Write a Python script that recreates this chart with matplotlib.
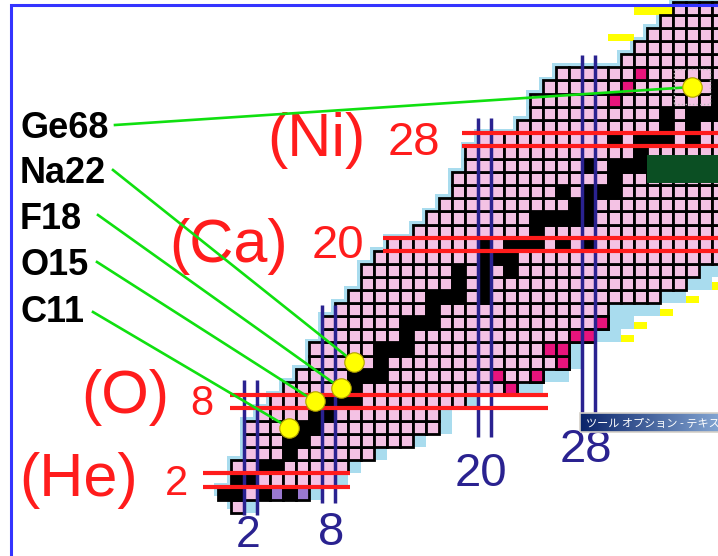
import matplotlib
matplotlib.use('Agg')
import matplotlib.pyplot as plt
from matplotlib.patches import Rectangle
from matplotlib.colors import LinearSegmentedColormap
import numpy as np

# rows of the nuclide chart: proton number Z, lightest / heaviest known neutron number
z_rows = list(range(0, 39))
n_first = [1, 0, 1, 1, 2, 2, 2, 3, 4, 5, 6, 7, 7, 8, 8, 9, 10, 11, 11, 12,
           13, 15, 16, 17, 18, 18, 19, 19, 20, 23, 24, 24, 25, 26, 31, 32, 33, 34, 35]
n_last = [1, 2, 8, 9, 11, 14, 16, 16, 18, 22, 24, 26, 26, 28, 29, 29, 33, 35, 36, 38,
          38, 38, 38, 38, 38, 38, 38, 38, 38, 38, 38, 38, 38, 38, 38, 38, 38, 38, 38]
# predicted (light blue) cells beyond the heaviest known one
lb_last = [2, 7, 9, 10, 12, 15, 17, 17, 19, 24, 26, 27, 27, 30, 31, 33, 35, 37, 38, 38,
           38, 38, 38, 38, 38, 38, 38, 38, 38, 38, 38, 38, 38, 38, 38, 38, 38, 38, 38]
# stable nuclides (neutron numbers) for each Z
stable_n = [[], [0, 1], [1, 2], [3, 4], [5], [5, 6], [6, 7], [7, 8], [8, 9, 10], [10],
            [10, 11, 12], [12], [12, 13, 14], [14], [14, 15, 16], [16], [16, 17, 18, 20],
            [18, 20], [18, 20, 22], [20, 21, 22], [20, 22, 23, 24, 26, 28], [24],
            [24, 25, 26, 27, 28], [27, 28], [26, 28, 29, 30], [30], [28, 30, 31, 32], [32],
            [30, 32, 33, 34, 36], [34, 36], [34, 36, 37, 38, 40], [38, 40],
            [38, 40, 41, 42, 44], [42], [40, 42, 43, 44, 46, 48], [44, 46],
            [42, 44, 46, 47, 48, 50], [48, 50], [46, 48, 49, 50]]
# newly found nuclides (magenta)
new_n = [22, 21, 24, 26, 25, 26, 27, 28, 29, 30, 31, 32]
new_z = [9, 10, 10, 11, 12, 12, 13, 13, 14, 31, 32, 33]
# unbound hydrogen states
res_n = [4, 6]
res_z = [1, 1]
dark_n = [3, 5]
dark_z = [1, 1]
# yellow marks at the drip lines
yel_n = [32, 33, 34, 30, 31, 34, 32, 31, 36, 38]
yel_z = [38, 38, 38, 36, 36, 15, 14, 13, 16, 17]

# magic numbers
magic = [2, 8, 20, 28]
elem_labels = ['(He)', '(O)', '(Ca)', '(Ni)']

# PET nuclides: name, N, Z
pet_names = ['Ge68', 'Na22', 'F18', 'O15', 'C11']
pet_n = [36, 10, 9, 7, 5]
pet_z = [32, 11, 9, 8, 6]

PINK = '#f4c2e4'
LBLUE = '#a9dcee'
MAGENTA = '#e8147c'
LAVENDER = '#9a78d0'
RED = '#ff1c1c'
NAVY = '#2a2290'
GREEN = '#10e010'


def nx(px):
    return (px - 224) / 13.0


def zy(py):
    return (506.2 - py) / 13.1


fig = plt.figure(figsize=(7.18, 5.56), dpi=100)
ax = fig.add_axes([0, 0, 1, 1])
ax.axis('off')

### cells ###
for i, z in enumerate(z_rows):
    a, b, c = n_first[i], n_last[i], lb_last[i]
    ax.add_patch(Rectangle((a - 0.8, z - 0.2), b - a + 1, 1, fc=LBLUE, ec='none', zorder=1))
    if c > b:
        ax.add_patch(Rectangle((b + 0.5, z - 0.5), c - b, 1, fc=LBLUE, ec='none', zorder=1))
    for n in range(a, b + 1):
        fc = 'black' if n in stable_n[i] else PINK
        ax.add_patch(Rectangle((n - 0.5, z - 0.5), 1, 1, fc=fc, ec='black', lw=2.0, zorder=3))

for n, z in zip(res_n, res_z):
    ax.add_patch(Rectangle((n - 0.5, z - 0.5), 1, 1, fc=LAVENDER, ec='black', lw=2.0, zorder=3))
for n, z in zip(dark_n, dark_z):
    ax.add_patch(Rectangle((n - 0.5, z - 0.5), 1, 1, fc='black', ec='black', lw=2.0, zorder=3))
for n, z in zip(new_n, new_z):
    ax.add_patch(Rectangle((n - 0.5, z - 0.5), 1, 1, fc=MAGENTA, ec='black', lw=2.0, zorder=4))
for n, z in zip(yel_n, yel_z):
    ax.add_patch(Rectangle((n - 0.5, z - 0.5), 1, 0.58, fc='#ffff00', ec='none', zorder=2))

# dark green box over the Mn/Fe rows
ax.add_patch(Rectangle((32.5, 24.7), 6, 2.1, fc='#0b4f23', ec='none', zorder=4))

### magic number lines ###
red_from = [nx(203), nx(230), nx(383), nx(462)]
red_to = [nx(350), nx(548), nx(720), nx(720)]
blue_from = [zy(515), zy(503), zy(437), zy(413)]
blue_to = [zy(380), zy(305), zy(118), zy(55)]
for m, x0, x1 in zip(magic, red_from, red_to):
    for d in (-0.5, 0.5):
        ax.plot([x0, x1], [m + d, m + d], color=RED, lw=3, solid_capstyle='butt', zorder=6)
for m, y0, y1 in zip(magic, blue_from, blue_to):
    for d in (-0.5, 0.5):
        ax.plot([m + d, m + d], [y0, y1], color=NAVY, lw=2.5, solid_capstyle='butt', zorder=5)

### labels ###
el_x = [19, 81, 169, 267]
el_y = [496, 413, 262, 156]
zn_x = [165, 190, 312, 388]
zn_y = [495, 415, 258, 155]
zn_size = [30, 30, 34, 34]
for lab, m, ex, ey, tx, ty, fs in zip(elem_labels, magic, el_x, el_y, zn_x, zn_y, zn_size):
    ax.text(nx(ex), zy(ey), lab, color=RED, fontsize=44, family='Liberation Sans',
            ha='left', va='baseline', zorder=7)
    ax.text(nx(tx), zy(ty), str(m), color=RED, fontsize=fs, family='Liberation Sans',
            ha='left', va='baseline', zorder=7)

nn_x = [236, 318, 455, 560]
nn_y = [547, 545, 486, 462]
nn_size = [32, 34, 34, 34]
for m, tx, ty, fs in zip(magic, nn_x, nn_y, nn_size):
    ax.text(nx(tx), zy(ty), str(m), color=NAVY, fontsize=fs, family='Liberation Sans',
            ha='left', va='baseline', zorder=7)

### PET nuclides with leader lines ###
name_y = [138, 183, 229, 275, 322]
line_start = [(115, 125), (113, 170), (98, 215), (97, 262), (93, 312)]
for name, n, z, ty, (sx, sy) in zip(pet_names, pet_n, pet_z, name_y, line_start):
    ax.text(nx(20), zy(ty), name, color='black', fontsize=26, fontweight='bold',
            family='Liberation Sans', ha='left', va='baseline', zorder=7)
    ax.plot([nx(sx), n], [zy(sy), z], color=GREEN, lw=1.9, zorder=8)
    ax.plot(n, z, 'o', ms=14, mfc='#ffff00', mec='#b0a000', mew=0.8, zorder=9)

# selection box around Ge68
ax.add_patch(Rectangle((pet_n[0] - 1.4, pet_z[0] - 1.3), 2.8, 2.7, fc='none',
                       ec='#b8b8b8', lw=1, ls=':', zorder=9))

### tooltip window ###
grad = np.linspace(0, 1, 256)[None, :]
cmap = LinearSegmentedColormap.from_list('tip', ['#0a246a', '#a6caf0'])
ax.imshow(grad, cmap=cmap, extent=[nx(580), nx(760), zy(432), zy(413)],
          aspect='auto', zorder=10)
ax.add_patch(Rectangle((nx(580), zy(432)), nx(760) - nx(580), zy(413) - zy(432),
                       fc='none', ec='#d4d0c8', lw=1.2, zorder=11))
ax.text(nx(586), zy(427), 'ツール オプション - テキスト', color='white', fontsize=8,
        family=['Noto Sans CJK JP', 'DejaVu Sans'], ha='left', va='baseline',
        zorder=11, clip_on=True)

### blue frame ###
ax.plot([nx(11), nx(11), nx(720)], [zy(560), zy(5), zy(5)], color='#3434ff', lw=2.2,
        zorder=12, solid_joinstyle='miter')

ax.set_xlim(nx(0), nx(718))
ax.set_ylim(zy(556), zy(0))
fig.savefig('out.png', dpi=100)
